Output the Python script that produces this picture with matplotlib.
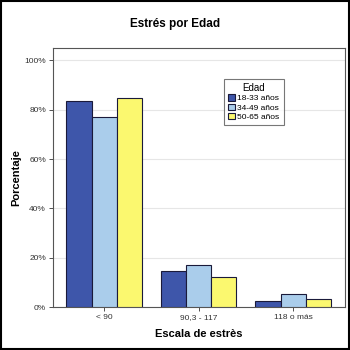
import matplotlib.pyplot as plt
import numpy as np
from matplotlib.ticker import PercentFormatter
from matplotlib.patches import Rectangle

categorias = ["< 90", "90,3 - 117", "118 o más"]
grupos = ["18-33 años", "34-49 años", "50-65 años"]
v18 = [83.5, 14.4, 2.3]
v34 = [77.0, 17.2, 5.4]
v50 = [84.6, 12.1, 3.1]
colores = ["#3E56AA", "#AACDEB", "#FBF86F"]

plt.rcParams['font.family'] = ['Liberation Sans', 'DejaVu Sans']

fig = plt.figure(figsize=(3.5, 3.5), dpi=100)
ax = fig.add_axes([53/350, 1-307/350, 292/350, 259/350])

x = np.arange(len(categorias))
w = 0.265
for i, (vals, lab, c) in enumerate(zip([v18, v34, v50], grupos, colores)):
    ax.bar(x + (i-1)*w, vals, w, color=c, edgecolor="#1a1a3a", linewidth=0.8, label=lab, zorder=3)

ax.set_xlim(-0.54, 2.55)
ax.set_ylim(0, 105)
ax.set_yticks([0, 20, 40, 60, 80, 100])
ax.yaxis.set_major_formatter(PercentFormatter(decimals=0))
ax.set_xticks(x)
ax.set_xticklabels(categorias)
ax.tick_params(labelsize=6, length=3, width=0.6, color="#333333", labelcolor="#333333", pad=2)
ax.grid(axis="y", color="#e6e6e6", linewidth=0.8, zorder=0)
for s in ax.spines.values():
    s.set_color("#555555")
    s.set_linewidth(0.8)

ax.set_xlabel("Escala de estrès", fontsize=8, fontweight="bold")
ax.xaxis.set_label_coords(0.5, -22/259)
ax.set_ylabel("Porcentaje", fontsize=8, fontweight="bold")
ax.yaxis.set_label_coords(-32/292, 0.5)
fig.text(0.5, 1-24/350, "Estrés por Edad", ha="center", va="center", fontsize=8.5, fontweight="bold")

leg = ax.legend(title="Edad", loc="upper left", bbox_to_anchor=(171/292, 1-31/259),
                fontsize=6, title_fontsize=7, frameon=True, fancybox=False,
                handlelength=0.8, handleheight=0.8, handletextpad=0.3,
                borderpad=0.5, labelspacing=0.15, borderaxespad=0)
leg.get_frame().set_edgecolor("#555555")
leg.get_frame().set_linewidth(0.8)

fig.patches.append(Rectangle((0.002, 0.002), 0.996, 0.996, transform=fig.transFigure,
                             fill=False, edgecolor="black", linewidth=1.5))

fig.savefig("out.png", dpi=100)
